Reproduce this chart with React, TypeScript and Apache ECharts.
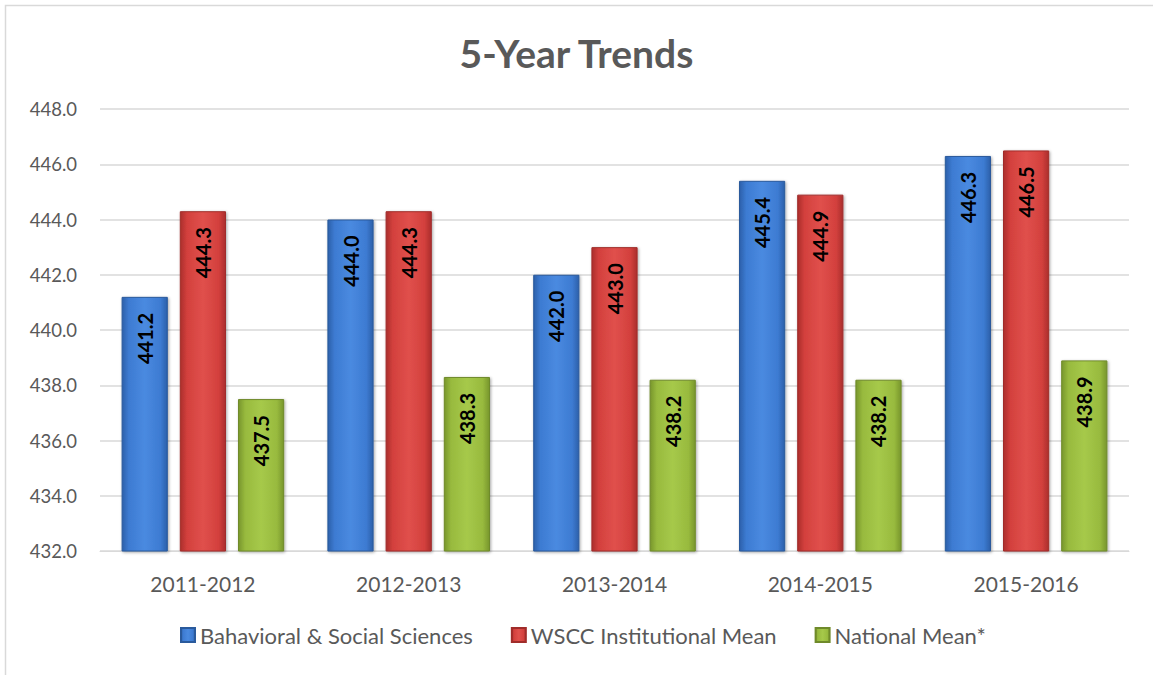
import React, { useEffect, useRef } from "react";
import * as echarts from "echarts";

const categories = ["2011-2012", "2012-2013", "2013-2014", "2014-2015", "2015-2016"];
const behavioral = [441.2, 444.0, 442.0, 445.4, 446.3];
const wscc = [444.3, 444.3, 443.0, 444.9, 446.5];
const national = [437.5, 438.3, 438.2, 438.2, 438.9];
const seriesNames = ["Bahavioral & Social Sciences", "WSCC Institutional Mean", "National Mean*"];

const FONT = "Lato, 'Noto Sans', sans-serif";

function grad(light: string, mid: string, dark: string) {
  return new echarts.graphic.LinearGradient(0, 0, 1, 0, [
    { offset: 0, color: dark },
    { offset: 0.15, color: mid },
    { offset: 0.5, color: light },
    { offset: 0.85, color: mid },
    { offset: 1, color: dark },
  ]);
}

const styles = [
  { fill: grad("#4a8ae0", "#3d7bd2", "#2c60aa"), border: "#2a5a9c" },
  { fill: grad("#e0504c", "#d3403d", "#ab2e2c"), border: "#a02c2a" },
  { fill: grad("#a6c94a", "#98ba3e", "#78962c"), border: "#6f8a2a" },
];

export default function App() {
  const ref = useRef<HTMLDivElement>(null);
  useEffect(() => {
    document.body.style.margin = "0";
    const chart = echarts.init(ref.current!, null, { renderer: "svg" });
    const data = [behavioral, wscc, national];
    chart.setOption({
      animation: false,
      backgroundColor: "#ffffff",
      title: {
        text: "5-Year Trends",
        left: "center",
        top: 28,
        textStyle: { fontFamily: FONT, fontSize: 39, fontWeight: "bold", color: "#595959" },
      },
      graphic: [
        {
          type: "rect",
          shape: { x: 5.5, y: 5.5, width: 1200, height: 700 },
          style: { fill: "none", stroke: "#d9d9d9", lineWidth: 1.5 },
          silent: true,
        },
      ],
      legend: {
        bottom: 24,
        left: 175,
        itemWidth: 14,
        itemHeight: 14,
        itemGap: 38,
        icon: "rect",
        textStyle: { fontFamily: FONT, fontSize: 22, color: "#595959" },
        data: seriesNames,
      },
      grid: { left: 100, right: 24, top: 109, bottom: 124, containLabel: false },
      xAxis: {
        type: "category",
        data: categories,
        axisLine: { lineStyle: { color: "#d9d9d9" } },
        axisTick: { show: false },
        axisLabel: { fontFamily: FONT, fontSize: 21, color: "#595959", margin: 22 },
      },
      yAxis: {
        type: "value",
        min: 432,
        max: 448,
        interval: 2,
        axisLine: { show: false },
        axisTick: { show: false },
        splitLine: { lineStyle: { color: "#d9d9d9", width: 1.5 } },
        axisLabel: {
          fontFamily: FONT,
          fontSize: 18.5,
          color: "#595959",
          margin: 23,
          formatter: (v: number) => v.toFixed(1),
        },
      },
      series: data.map((d, i) => ({
        name: seriesNames[i],
        type: "bar",
        data: d,
        barGap: "26%",
        barCategoryGap: "21%",
        itemStyle: {
          color: styles[i].fill,
          borderColor: styles[i].border,
          borderWidth: 1,
          shadowColor: "rgba(0,0,0,0.35)",
          shadowBlur: 3,
          shadowOffsetX: 1,
          shadowOffsetY: 1,
        },
        label: {
          show: true,
          position: "insideTop",
          rotate: 90,
          align: "right",
          verticalAlign: "middle",
          distance: 16,
          fontFamily: FONT,
          fontSize: 20,
          fontWeight: "bold",
          color: "#000000",
          formatter: (p: any) => Number(p.value).toFixed(1),
        },
      })),
    });
    return () => chart.dispose();
  }, []);
  return <div ref={ref} style={{ width: 1153, height: 675 }} />;
}
